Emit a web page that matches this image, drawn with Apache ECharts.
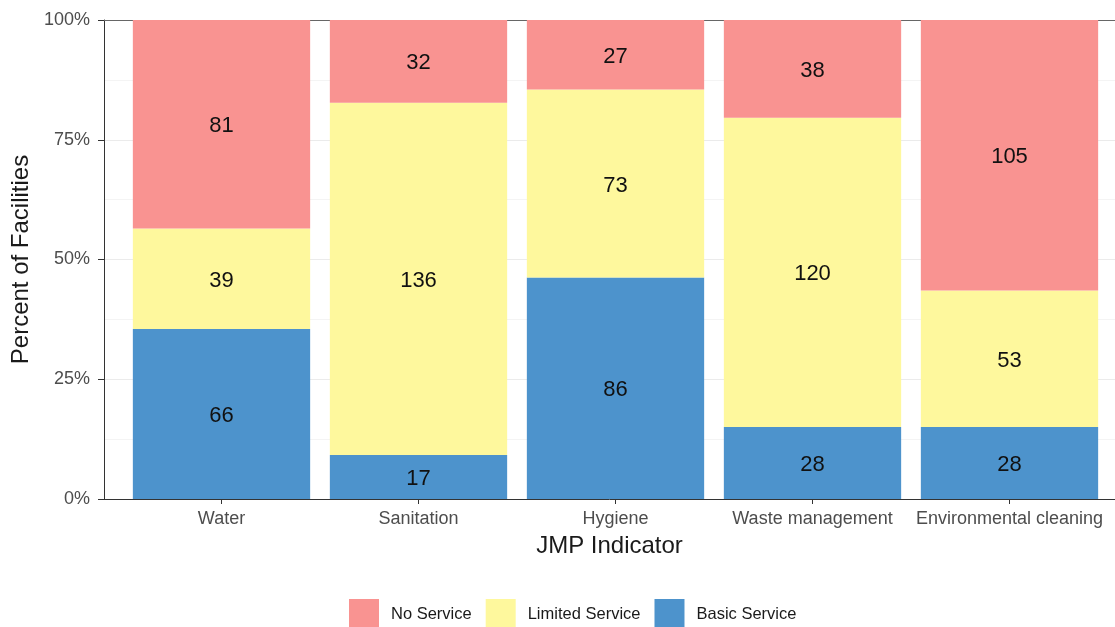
<!DOCTYPE html>
<html>
<head>
<meta charset="utf-8">
<script src="https://cdn.jsdelivr.net/npm/echarts@6/dist/echarts.min.js"></script>
<style>
  html, body { margin: 0; padding: 0; background: #fff; }
  #chart { width: 1115px; height: 627px; }
</style>
</head>
<body>
<div id="chart"></div>
<script>
var categories = ['Water', 'Sanitation', 'Hygiene', 'Waste management', 'Environmental cleaning'];
var basicCounts = [66, 17, 86, 28, 28];
var limitedCounts = [39, 136, 73, 120, 53];
var noCounts = [81, 32, 27, 38, 105];
var yTicks = [0, 25, 50, 75, 100];

var colors = { no: '#F99391', limited: '#FEF89D', basic: '#4D93CC' };

// share of each facility count within its indicator
var totals = categories.map(function (c, i) {
    return basicCounts[i] + limitedCounts[i] + noCounts[i];
});
function toShares(counts) {
    return counts.map(function (v, i) { return { value: v / totals[i] * 100, count: v }; });
}

function makeSeries(name, counts, color) {
    return {
        name: name,
        type: 'bar',
        stack: 'total',
        xAxisIndex: 1,
        yAxisIndex: 1,
        barWidth: '90%',
        data: toShares(counts),
        itemStyle: { color: color },
        label: {
            show: true,
            position: 'inside',
            offset: [0, 2],
            color: '#111',
            fontSize: 22,
            formatter: function (p) { return p.data.count; }
        },
        emphasis: { disabled: true }
    };
}

var chart = echarts.init(document.getElementById('chart'));
chart.setOption({
    animation: false,
    backgroundColor: '#ffffff',
    textStyle: { fontFamily: 'Liberation Sans' },
    grid: [
        // panel: gridlines and the percent axis, runs past the right edge
        { left: 104, top: 20, bottom: 128, width: 1023 },
        // bars: 5 bands of 197px, padded like a discrete ggplot axis
        { left: 123, top: 20, bottom: 128, width: 985 }
    ],
    legend: {
        bottom: -7,
        left: 344,
        itemWidth: 30,
        itemHeight: 30,
        itemGap: 14,
        icon: 'rect',
        data: ['No Service', 'Limited Service', 'Basic Service'],
        textStyle: { fontSize: 16.5, color: '#1a1a1a', padding: [0, 0, 0, 7] }
    },
    xAxis: [
        {
            gridIndex: 0,
            type: 'value',
            min: 0,
            max: 1,
            name: 'JMP Indicator',
            nameLocation: 'middle',
            nameGap: 35,
            nameTextStyle: { fontSize: 24, color: '#1a1a1a' },
            splitLine: { show: false },
            axisLine: { show: true, onZero: false, lineStyle: { color: '#333', width: 1 } },
            axisTick: { show: false },
            axisLabel: { show: false }
        },
        {
            gridIndex: 1,
            type: 'category',
            data: categories,
            axisLine: { show: false },
            axisTick: { show: true, alignWithLabel: true, length: 5, lineStyle: { color: '#333' } },
            axisLabel: { margin: 11, fontSize: 18, color: '#4d4d4d', interval: 0 },
            splitLine: { show: false }
        },
        {
            // top edge of the panel
            gridIndex: 0,
            type: 'value',
            position: 'top',
            min: 0,
            max: 1,
            axisLine: { show: true, onZero: false, lineStyle: { color: '#666', width: 1 } },
            axisTick: { show: false },
            axisLabel: { show: false },
            splitLine: { show: false }
        }
    ],
    yAxis: [
        {
            gridIndex: 0,
            type: 'value',
            min: yTicks[0],
            max: yTicks[yTicks.length - 1],
            interval: 25,
            name: 'Percent of Facilities',
            nameLocation: 'middle',
            nameGap: 71,
            nameRotate: 90,
            nameTextStyle: { fontSize: 24, color: '#1a1a1a' },
            axisLine: { show: true, onZero: false, lineStyle: { color: '#333', width: 1 } },
            axisTick: { show: true, length: 6, lineStyle: { color: '#333' } },
            axisLabel: { margin: 14, fontSize: 18, color: '#4d4d4d', formatter: '{value}%' },
            splitLine: { show: true, lineStyle: { color: '#ebebeb', width: 1 } },
            minorTick: { show: false, splitNumber: 2 },
            minorSplitLine: { show: true, lineStyle: { color: '#f4f4f4', width: 1 } }
        },
        {
            gridIndex: 1,
            type: 'value',
            min: 0,
            max: 100,
            show: false,
            splitLine: { show: false }
        }
    ],
    series: [
        makeSeries('Basic Service', basicCounts, colors.basic),
        makeSeries('Limited Service', limitedCounts, colors.limited),
        makeSeries('No Service', noCounts, colors.no)
    ]
});
</script>
</body>
</html>
